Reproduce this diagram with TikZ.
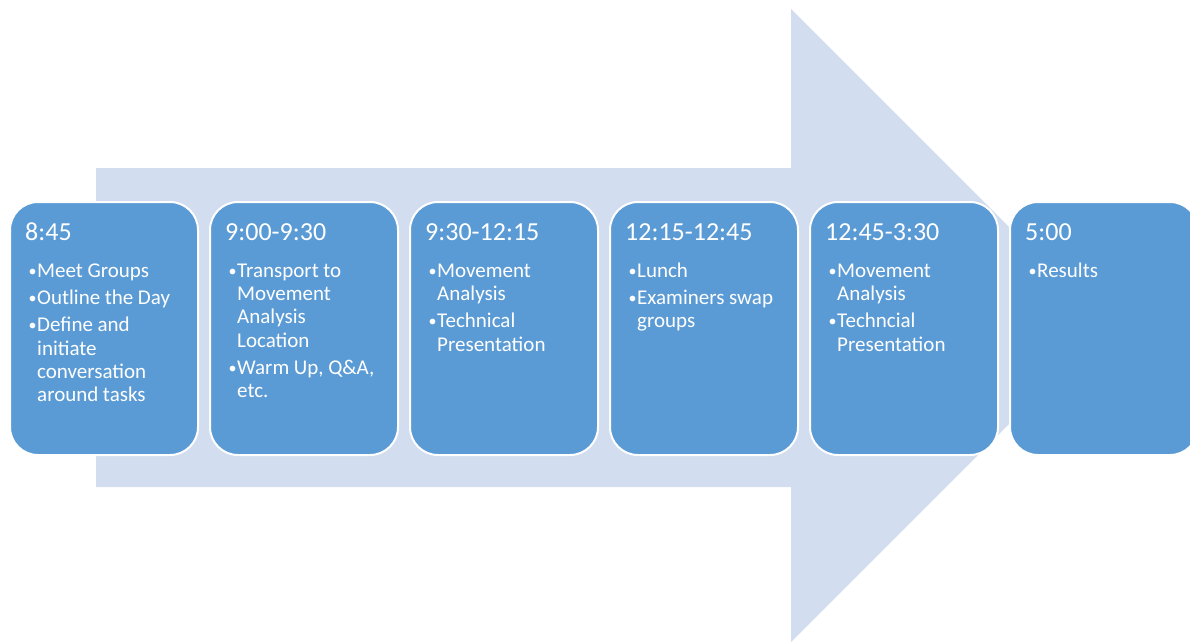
\documentclass[tikz,border=0pt]{standalone}
\usepackage{fontspec}
\setmainfont{Carlito}
\definecolor{boxblue}{RGB}{91,155,213}
\definecolor{arrowblue}{RGB}{210,222,239}
\newcommand\itm[1]{\par\hangindent=9pt\hangafter=1\noindent\rule{0pt}{16pt}\makebox[9pt][l]{\hspace{0.5pt}\raisebox{1.2pt}{\fontsize{16}{16}\selectfont\textbullet}}#1\par}
\newcommand\itmsetup{\setlength{\parskip}{4pt}\spaceskip=4.6pt plus 0pt minus 0.5pt\relax}
\tikzset{
  stagebox/.style={draw=white, line width=2pt, fill=boxblue, rounded corners=28pt,
    minimum width=188pt, minimum height=253pt, anchor=north west, inner sep=0pt},
  stagetitle/.style={anchor=base west, inner sep=0pt, text=white, font=\fontsize{26}{31}\selectfont},
  stageitems/.style={anchor=north west, inner sep=0pt, text=white, text width=170pt, align=left,
    font=\fontsize{21}{23.2}\selectfont}
}
\begin{document}
\begin{tikzpicture}[x=1pt,y=-1pt]
\useasboundingbox (0,0) rectangle (1190,643);
\clip (0,0) rectangle (1190,643);
\fill[arrowblue] (96,168) -- (791,168) -- (791,9) -- (1107.5,325.5) -- (791,642) -- (791,487) -- (96,487) -- cycle;

\node[stagebox] (b1) at (9,201) {};
\node[stagebox] (b2) at (209,201) {};
\node[stagebox] (b3) at (409,201) {};
\node[stagebox] (b4) at (609,201) {};
\node[stagebox] (b5) at (809,201) {};
\node[stagebox] (b6) at (1009,201) {};

\node[stagetitle] (t1) at (25,240) {8:45};
\node[stagetitle] (t2) at (225,240) {9:00-9:30};
\node[stagetitle] (t3) at (425,240) {9:30-12:15};
\node[stagetitle] (t4) at (625,240) {12:15-12:45};
\node[stagetitle] (t5) at (825,240) {12:45-3:30};
\node[stagetitle] (t6) at (1025,240) {5:00};

\node[stageitems] (l1) at (28,250) {\itmsetup\itm{Meet Groups}\itm{Outline the Day}\itm{Define and\newline initiate\newline conversation\newline around tasks}};
\node[stageitems] (l2) at (228,250) {\itmsetup\itm{Transport to\newline Movement\newline Analysis\newline Location}\itm{Warm Up, Q\&A,\newline etc.}};
\node[stageitems] (l3) at (428,250) {\itmsetup\itm{Movement\newline Analysis}\itm{Technical\newline Presentation}};
\node[stageitems] (l4) at (628,250) {\itmsetup\itm{Lunch}\itm{Examiners swap\newline groups}};
\node[stageitems] (l5) at (828,250) {\itmsetup\itm{Movement\newline Analysis}\itm{Techncial\newline Presentation}};
\node[stageitems] (l6) at (1028,250) {\itmsetup\itm{Results}};
\end{tikzpicture}
\end{document}
